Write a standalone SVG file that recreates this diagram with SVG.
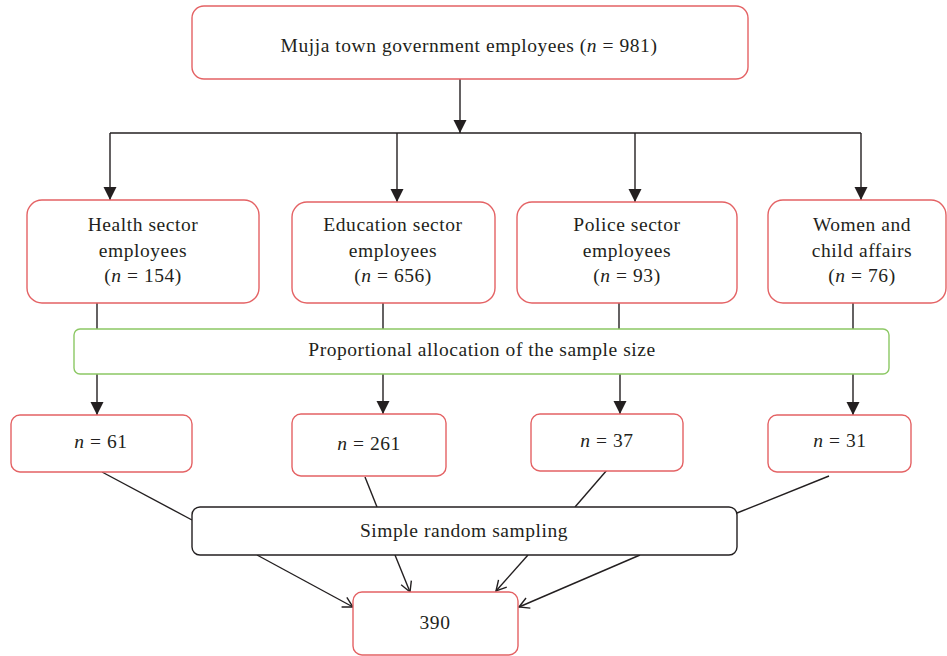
<svg xmlns="http://www.w3.org/2000/svg" width="947" height="656" viewBox="0 0 947 656">
<style>
  .red { fill: #ffffff; stroke: #e46264; stroke-width: 1.4; }
  .green { fill: #ffffff; stroke: #8cc864; stroke-width: 1.4; }
  .black { fill: #ffffff; stroke: #231f20; stroke-width: 1.4; }
  text { font-family: "Liberation Serif", "Times New Roman", serif; font-size: 19.5px; fill: #231f20; text-anchor: middle; letter-spacing: 0.55px; }
  .it { font-style: italic; }
  .ln { fill: none; stroke: #231f20; stroke-width: 1.4; }
</style>
<defs>
  <marker id="fa" markerUnits="userSpaceOnUse" markerWidth="14" markerHeight="14" viewBox="0 0 14 14" refX="13" refY="7" orient="auto">
    <path d="M0,0.5 L13,7 L0,13.5 Z" fill="#231f20"/>
  </marker>
  <marker id="oa" markerUnits="userSpaceOnUse" markerWidth="14" markerHeight="14" viewBox="0 0 14 14" refX="12" refY="7" orient="auto">
    <path d="M2,1.5 L12,7 L2,12.5" fill="none" stroke="#231f20" stroke-width="1.4"/>
  </marker>
</defs>

<g id="connectors">
  <line class="ln" x1="460" y1="79" x2="460" y2="133" marker-end="url(#fa)"/>
  <path class="ln" d="M110,133 H861"/>
  <line class="ln" x1="110" y1="133" x2="110" y2="200" marker-end="url(#fa)"/>
  <line class="ln" x1="397" y1="133" x2="397" y2="202" marker-end="url(#fa)"/>
  <line class="ln" x1="635" y1="133" x2="635" y2="202" marker-end="url(#fa)"/>
  <line class="ln" x1="861" y1="133" x2="861" y2="200" marker-end="url(#fa)"/>

  <line class="ln" x1="97" y1="303" x2="97" y2="329"/>
  <line class="ln" x1="383" y1="303" x2="383" y2="329"/>
  <line class="ln" x1="619" y1="303" x2="619" y2="329"/>
  <line class="ln" x1="853" y1="303" x2="853" y2="329"/>

  <line class="ln" x1="97" y1="374" x2="97" y2="415" marker-end="url(#fa)"/>
  <line class="ln" x1="383" y1="374" x2="383" y2="414" marker-end="url(#fa)"/>
  <line class="ln" x1="620" y1="374" x2="620" y2="414" marker-end="url(#fa)"/>
  <line class="ln" x1="853" y1="374" x2="853" y2="415" marker-end="url(#fa)"/>

  <line class="ln" x1="102" y1="472" x2="192" y2="520"/>
  <line class="ln" x1="365" y1="477" x2="377" y2="507"/>
  <line class="ln" x1="607" y1="470" x2="575" y2="507"/>
  <line class="ln" x1="829" y1="476" x2="737" y2="513"/>

  <line class="ln" x1="257" y1="555" x2="353" y2="607" marker-end="url(#oa)"/>
  <line class="ln" x1="395" y1="555" x2="410" y2="592" marker-end="url(#oa)"/>
  <line class="ln" x1="528" y1="555" x2="496" y2="591" marker-end="url(#oa)"/>
  <line class="ln" x1="640" y1="555" x2="519" y2="607" marker-end="url(#oa)"/>
</g>

<g id="node-top">
  <rect class="red" x="192" y="6" width="556" height="73" rx="12"/>
  <text x="469" y="52">Mujja town government employees (<tspan class="it">n</tspan> = 981)</text>
</g>

<g id="node-health">
  <rect class="red" x="27" y="200" width="232" height="103" rx="15"/>
  <text x="143" y="231">Health sector</text>
  <text x="143" y="257">employees</text>
  <text x="143" y="282">(<tspan class="it">n</tspan> = 154)</text>
</g>

<g id="node-education">
  <rect class="red" x="292" y="202" width="203" height="101" rx="15"/>
  <text x="393" y="231">Education sector</text>
  <text x="393" y="257">employees</text>
  <text x="393" y="282">(<tspan class="it">n</tspan> = 656)</text>
</g>

<g id="node-police">
  <rect class="red" x="517" y="202" width="220" height="101" rx="15"/>
  <text x="627" y="231">Police sector</text>
  <text x="627" y="257">employees</text>
  <text x="627" y="282">(<tspan class="it">n</tspan> = 93)</text>
</g>

<g id="node-women">
  <rect class="red" x="768" y="200" width="178" height="103" rx="15"/>
  <text x="862" y="231">Women and</text>
  <text x="862" y="257">child affairs</text>
  <text x="862" y="282">(<tspan class="it">n</tspan> = 76)</text>
</g>

<g id="node-proportional">
  <rect class="green" x="74" y="329" width="815" height="45" rx="6"/>
  <text x="482" y="356">Proportional allocation of the sample size</text>
</g>

<g id="node-n61">
  <rect class="red" x="11" y="415" width="181" height="57" rx="9"/>
  <text x="101" y="448"><tspan class="it">n</tspan> = 61</text>
</g>

<g id="node-n261">
  <rect class="red" x="292" y="414" width="154" height="62" rx="9"/>
  <text x="369" y="450"><tspan class="it">n</tspan> = 261</text>
</g>

<g id="node-n37">
  <rect class="red" x="531" y="414" width="152" height="57" rx="9"/>
  <text x="607" y="447"><tspan class="it">n</tspan> = 37</text>
</g>

<g id="node-n31">
  <rect class="red" x="768" y="415" width="143" height="57" rx="9"/>
  <text x="840" y="447"><tspan class="it">n</tspan> = 31</text>
</g>

<g id="node-srs">
  <rect class="black" x="192" y="507" width="545" height="48" rx="8"/>
  <text x="464" y="537">Simple random sampling</text>
</g>

<g id="node-390">
  <rect class="red" x="353" y="592" width="165" height="63" rx="9"/>
  <text x="435" y="629">390</text>
</g>
</svg>
